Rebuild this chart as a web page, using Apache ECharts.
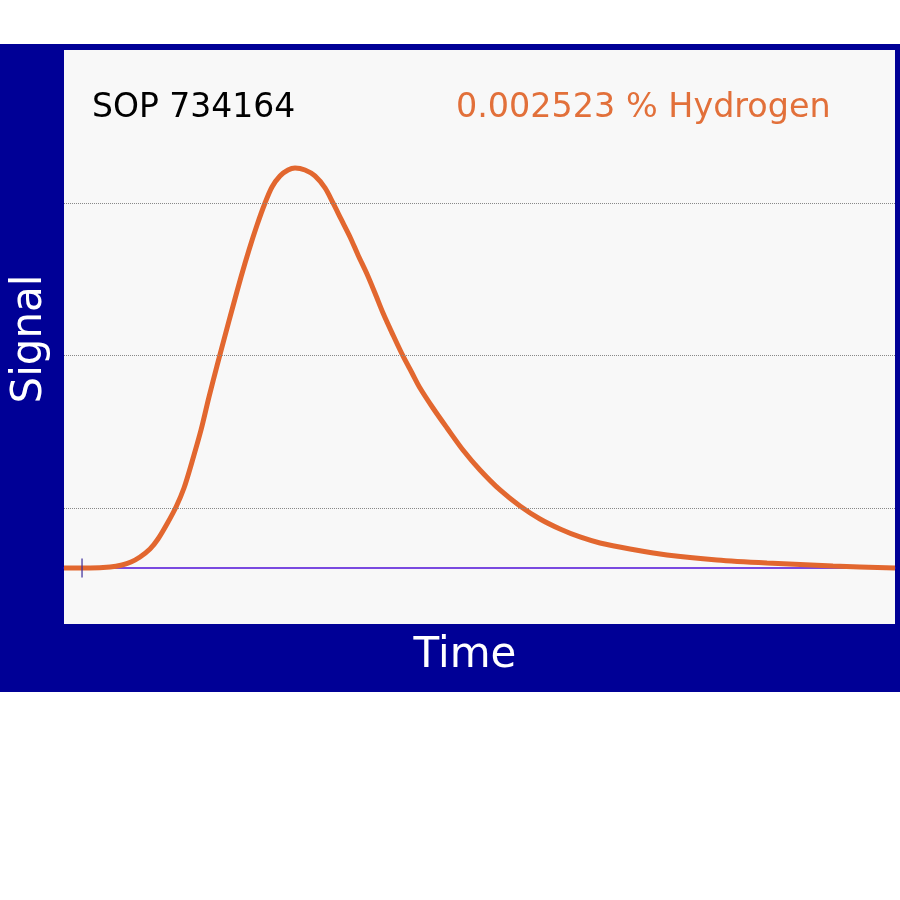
<!DOCTYPE html>
<html>
<head>
<meta charset="utf-8">
<style>
  html, body { margin: 0; padding: 0; background: #ffffff; }
  #chart { width: 900px; height: 900px; }
</style>
<script src="https://cdn.jsdelivr.net/npm/echarts@6/dist/echarts.min.js"></script>
</head>
<body>
<div id="chart"></div>
<script>
// Time (arbitrary units, 0..100 across the plot)
const timeValues = [0, 3.13, 5.54, 6.98, 8.06, 9.15, 10.35, 11.31, 12.39, 13.48,
  14.44, 15.40, 16.49, 17.45, 18.41, 19.37, 20.34, 21.30, 22.26, 23.23,
  24.19, 25.03, 25.99, 26.96, 27.80, 29.00, 30.20, 31.41, 32.37, 33.33,
  34.42, 35.38, 36.46, 37.42, 38.39, 39.59, 40.79, 41.88, 42.84, 44.40,
  46.09, 48.01, 50.06, 52.47, 54.87, 57.28, 59.69, 62.09, 64.50, 68.11,
  72.56, 78.58, 84.60, 92.54, 100];
// Signal (arbitrary units, peak ~100)
const signalValues = [0, 0, 0.25, 0.75, 1.50, 2.76, 4.76, 7.27, 11.03, 15.29,
  20.05, 26.57, 34.59, 42.86, 50.63, 58.15, 65.66, 72.93, 79.70, 85.96,
  91.48, 95.49, 98.25, 99.75, 100.25, 99.75, 98.25, 95.24, 91.48, 87.47,
  82.96, 78.45, 73.68, 68.92, 63.91, 58.40, 53.13, 48.87, 45.11, 40.10,
  35.09, 29.57, 24.56, 19.55, 15.54, 12.28, 9.77, 7.77, 6.27, 4.76,
  3.26, 2.01, 1.25, 0.50, 0];
// Dotted reference grid levels (signal units)
const gridLevels = [15.04, 53.38, 91.48];
// Start marker on the time axis
const startMarker = [[2.17, 0]];
const titleLeft = 'SOP 734164';
const titleRight = '0.002523 % Hydrogen';
const xName = 'Time';
const yName = 'Signal';

const chart = echarts.init(document.getElementById('chart'));
chart.setOption({
  backgroundColor: '#ffffff',
  animation: false,
  graphic: [
    { type: 'rect', z: -10, shape: { x: 0, y: 44, width: 900, height: 648 }, style: { fill: '#000096' } },
    { type: 'text', left: 92, top: 92, style: { text: titleLeft, fill: '#000000', font: '33px "DejaVu Sans"' } },
    { type: 'text', left: 456, top: 92, style: { text: titleRight, fill: '#e2703a', font: '33.4px "DejaVu Sans"' } },
    { type: 'text', x: 465, y: 656, style: { text: xName, fill: '#ffffff', font: '42px "DejaVu Sans"', align: 'center', verticalAlign: 'middle' } },
    { type: 'text', x: 30, y: 339, rotation: Math.PI / 2, style: { text: yName, fill: '#ffffff', font: '42px "DejaVu Sans"', align: 'center', verticalAlign: 'middle' } }
  ],
  grid: {
    left: 64, right: 5, top: 50, bottom: 276,
    show: true, backgroundColor: '#f8f8f8', borderWidth: 0
  },
  xAxis: {
    type: 'value', min: 0, max: 100,
    axisLine: { show: true, onZero: true, lineStyle: { color: '#5010d8', width: 1.5 } },
    axisTick: { show: false }, axisLabel: { show: false }, splitLine: { show: false }
  },
  yAxis: {
    type: 'value', min: -14.04, max: 129.82,
    axisLine: { show: false }, axisTick: { show: false }, axisLabel: { show: false }, splitLine: { show: false }
  },
  series: [
    {
      type: 'line',
      data: timeValues.map((t, i) => [t, signalValues[i]]),
      showSymbol: false,
      smooth: 0.3,
      lineStyle: { color: '#e2672f', width: 5 },
      z: 3,
      markLine: {
        silent: true, symbol: 'none', label: { show: false },
        lineStyle: { color: '#888888', type: 'dotted', width: 1 },
        data: gridLevels.map(v => ({ yAxis: v }))
      }
    },
    {
      type: 'scatter',
      data: startMarker,
      symbol: 'rect',
      symbolSize: [1.5, 19],
      itemStyle: { color: '#3a2a9a' },
      z: 5
    }
  ]
});
</script>
</body>
</html>
